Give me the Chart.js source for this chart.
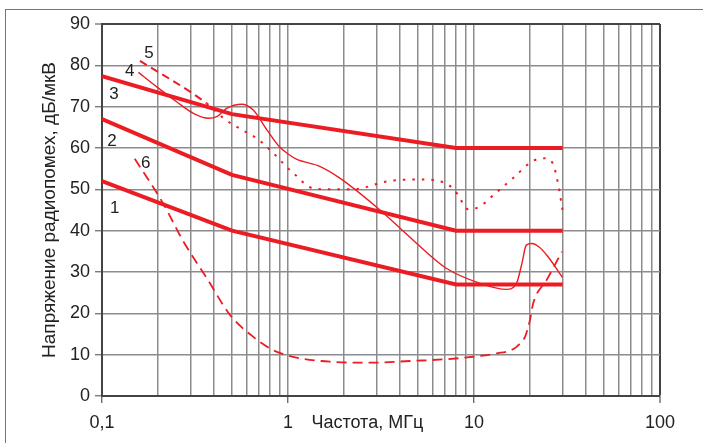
<!DOCTYPE html>
<html>
<head>
<meta charset="utf-8">
<script src="https://cdn.jsdelivr.net/npm/chart.js@4.4.1/dist/chart.umd.min.js"></script>
<style>
  html, body { margin: 0; padding: 0; background: #fff; overflow: hidden; }
  #frame { position: absolute; left: 5px; top: 9px; width: 760px; height: 500px; border: 1.5px solid #3f82c6; box-sizing: border-box; }
  #wrap { position: absolute; left: 0; top: 0; width: 703px; height: 443px; }
</style>
</head>
<body>
<div id="frame"></div>
<div id="wrap"><canvas id="c" width="703" height="443"></canvas></div>
<script>
// ---- data ----
const xTickValues = [0.1,0.2,0.3,0.4,0.5,0.6,0.7,0.8,0.9,1,2,3,4,5,6,7,8,9,10,20,30,40,50,60,70,80,90,100];
const xMajorLabels = { 0.1: '0,1', 1: '1', 10: '10', 100: '100' };
const yTicks = [0,10,20,30,40,50,60,70,80,90];

const fLimit = [0.1, 0.5, 8, 30];
const limit1 = [52, 40, 27, 27];
const limit2 = [67, 53.5, 40, 40];
const limit3 = [77.4, 68.2, 60, 60];

const f4 = [0.157, 0.197, 0.252, 0.31, 0.373, 0.414, 0.468, 0.564, 0.65, 0.77, 0.9, 1.02, 1.11, 1.49, 1.9, 3.12, 4.71, 7.1, 10.7, 15, 16.9, 18.1, 19.1, 20.5, 22.3, 25, 29.9];
const v4 = [78.3, 74.8, 71.2, 68.4, 67.2, 67.6, 69.6, 70.6, 69.2, 64.4, 60.3, 58.3, 57.3, 55.5, 52.7, 45, 37.7, 30.9, 27.3, 25.8, 27.2, 32.1, 36.5, 36.9, 36.1, 33.7, 28.7];

const f5 = [0.16, 0.365, 0.45, 0.56, 0.68, 0.82, 0.98, 1.07, 1.37, 1.7, 2.34, 3.38, 5.07, 7.1, 8.1, 9.3, 10.7, 13, 16.2, 20.8, 24.2, 26.5, 28.3, 29.9];
const v5 = [81.1, 70.8, 67.2, 64.5, 62.3, 59.1, 55.5, 53.9, 50.2, 50, 50.1, 51.9, 52.4, 51.4, 49, 45.2, 45.8, 49, 52.7, 56.9, 57.5, 56.3, 51.4, 45];

const f6 = [0.15, 0.213, 0.273, 0.365, 0.488, 0.651, 0.83, 1.0, 1.16, 1.68, 2.66, 4.7, 7.1, 9.9, 13.2, 16.2, 17.5, 18.8, 20.0, 20.8, 24.6, 29.7];
const v6 = [57.4, 46.6, 37.5, 28.6, 19.6, 14.3, 11.1, 9.8, 9.1, 8.3, 8.05, 8.5, 8.9, 9.5, 10.3, 11.3, 12.5, 14.3, 18.4, 22.4, 28.1, 34.9];

const curveLabels = ['1','2','3','4','5','6'];
const xTitle = 'Частота, МГц';
const yTitle = 'Напряжение радиопомех, дБ/мкВ';

// ---- helpers ----
const RED = '#ec1c24';
const pts = (xs, ys) => xs.map((x, i) => ({ x, y: ys[i] }));
const FONT = '"Liberation Sans", Arial, sans-serif';

// label anchors (in data units)
const labelAnchors = [
  [0.117, 45.5], [0.113, 61.7], [0.116, 73], [0.141, 78.6], [0.179, 83], [0.172, 56.4]
];

const annotate = {
  id: 'annotate',
  afterDatasetsDraw(chart) {
    const { ctx, scales: { x, y }, chartArea } = chart;
    ctx.save();
    ctx.fillStyle = '#222';
    ctx.font = '17px ' + FONT;
    ctx.textAlign = 'center';
    ctx.textBaseline = 'middle';
    curveLabels.forEach((t, i) => {
      ctx.fillText(t, x.getPixelForValue(labelAnchors[i][0]), y.getPixelForValue(labelAnchors[i][1]));
    });
    ctx.font = '18px ' + FONT;
    ctx.fillText(xTitle, x.getPixelForValue(2.67), y.bottom + 27);
    // y title
    ctx.translate(50, (chartArea.top + chartArea.bottom) / 2);
    ctx.rotate(-Math.PI / 2);
    ctx.font = '19px ' + FONT;
    ctx.fillText(yTitle, 0, 0);
    ctx.restore();
  }
};

new Chart(document.getElementById('c'), {
  type: 'line',
  data: {
    datasets: [
      { data: pts(fLimit, limit1), borderColor: RED, borderWidth: 4, tension: 0, pointRadius: 0 },
      { data: pts(fLimit, limit2), borderColor: RED, borderWidth: 4, tension: 0, pointRadius: 0 },
      { data: pts(fLimit, limit3), borderColor: RED, borderWidth: 4, tension: 0, pointRadius: 0 },
      { data: pts(f4, v4), borderColor: RED, borderWidth: 1.4, cubicInterpolationMode: 'monotone', pointRadius: 0 },
      { data: pts(f5, v5), borderColor: RED, borderWidth: 2, cubicInterpolationMode: 'monotone', pointRadius: 0,
        segment: { borderDash: c => c.p0.parsed.x < 0.36 ? [8, 5] : [2.5, 7] } },
      { data: pts(f6, v6), borderColor: RED, borderWidth: 1.8, cubicInterpolationMode: 'monotone', pointRadius: 0,
        borderDash: [10, 6] }
    ]
  },
  options: {
    responsive: false,
    animation: false,
    devicePixelRatio: 1,
    layout: { padding: { left: 0, top: 24, right: 43, bottom: 0 } },
    plugins: { legend: { display: false }, tooltip: { enabled: false } },
    scales: {
      x: {
        type: 'logarithmic',
        min: 0.1, max: 100,
        afterBuildTicks: s => { s.ticks = xTickValues.map(v => ({ value: v })); },
        afterFit: s => { s.height = 47; },
        ticks: {
          autoSkip: false, maxRotation: 0, padding: 9,
          color: '#222', font: { family: FONT, size: 18 },
          callback: v => xMajorLabels[v] !== undefined ? xMajorLabels[v] : ''
        },
        grid: {
          color: c => (c.tick && c.tick.value === 100) ? '#444' : '#8c8c8c',
          lineWidth: c => (c.tick && c.tick.value === 100) ? 2 : 1.5,
          tickLength: 7,
          tickColor: c => (c.tick && xMajorLabels[c.tick.value] !== undefined) ? '#555' : 'rgba(0,0,0,0)',
          tickWidth: 1.2
        },
        border: { color: '#444', width: 2 }
      },
      y: {
        min: 0, max: 90,
        afterBuildTicks: s => { s.ticks = yTicks.map(v => ({ value: v })); },
        afterFit: s => { s.width = 102; },
        ticks: { color: '#222', padding: 5, font: { family: FONT, size: 18 } },
        grid: {
          color: c => (c.tick && c.tick.value === 90) ? '#444' : '#8c8c8c',
          lineWidth: c => (c.tick && c.tick.value === 90) ? 2 : 1.5,
          tickLength: 7, tickColor: '#666', tickWidth: 1.2
        },
        border: { color: '#444', width: 2 }
      }
    }
  },
  plugins: [annotate]
});
</script>
</body>
</html>
